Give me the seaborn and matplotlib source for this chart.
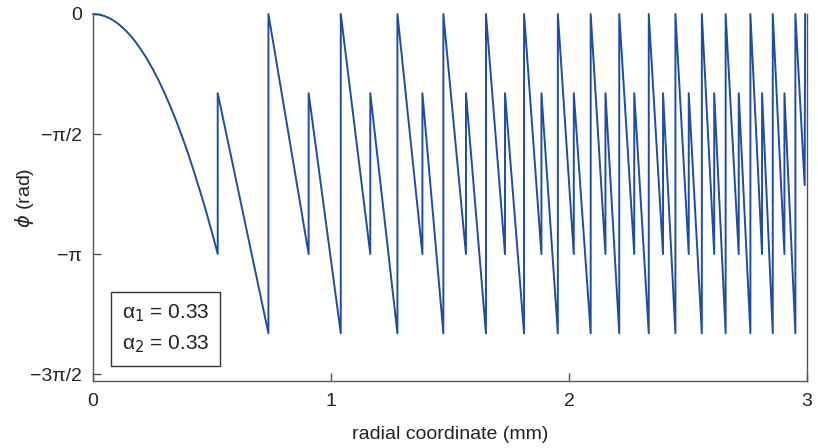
import numpy as np
import pandas as pd
import matplotlib
matplotlib.use("Agg")
import matplotlib.pyplot as plt
import seaborn as sns

sns.set_theme(style="white")
plt.rcParams["font.family"] = ["Liberation Sans", "DejaVu Sans"]

# ---- data ----
# first smooth section (r in mm, phase in rad)
curve_r = [0, 0.025, 0.05, 0.075, 0.10, 0.125, 0.15, 0.175, 0.20, 0.225, 0.25,
           0.275, 0.30, 0.325, 0.35, 0.375, 0.40, 0.425, 0.45, 0.475, 0.50, 0.524]
curve_phi = [0, -0.007, -0.029, -0.064, -0.114, -0.179, -0.257, -0.350, -0.458,
             -0.579, -0.715, -0.865, -1.03, -1.21, -1.40, -1.61, -1.83, -2.07,
             -2.32, -2.58, -2.86, -3.14]

# positions where phase hits -pi and jumps up to -0.33 pi
wrap_r = [0.524, 0.906, 1.165, 1.384, 1.567, 1.731, 1.884, 2.020, 2.153,
          2.274, 2.395, 2.503, 2.610, 2.713, 2.811, 2.905]
# positions where phase hits -1.33 pi and jumps back to 0
reset_r = [0.737, 1.041, 1.279, 1.472, 1.651, 1.811, 1.953, 2.091, 2.211,
           2.335, 2.447, 2.558, 2.658, 2.762, 2.856, 2.951]

level_low = -np.pi          # -pi
level_mid = -0.33 * np.pi   # after first jump
level_bottom = -1.33 * np.pi
level_top = 0.0

# end of the trace at r ~ 3 mm
tail_r = [2.990, 2.992]
tail_phi = [-2.24, 0.0]

alphas = [0.33, 0.33]

# ---- build trace ----
r_pts = list(curve_r)
p_pts = list(curve_phi)
for i in range(len(wrap_r)):
    if i > 0:
        r_pts.append(wrap_r[i]); p_pts.append(level_low)
    r_pts.append(wrap_r[i]); p_pts.append(level_mid)
    r_pts.append(reset_r[i]); p_pts.append(level_bottom)
    r_pts.append(reset_r[i]); p_pts.append(level_top)
r_pts += tail_r
p_pts += tail_phi

df = pd.DataFrame({"r": r_pts, "phi": p_pts})

# ---- plot ----
fig = plt.figure(figsize=(8.18, 4.48), dpi=100)
ax = fig.add_axes([0.1137, 0.150, 0.8729, 0.8188])

sns.lineplot(data=df, x="r", y="phi", sort=False, estimator=None,
             color="#214ca0", linewidth=1.4, ax=ax, clip_on=False)

ax.set_xlim(0, 3)
ax.set_ylim(-4.80, 0)
ax.set_xticks([0, 1, 2, 3])
ax.set_xticklabels(["0", "1", "2", "3"])
ax.set_yticks([0, -np.pi / 2, -np.pi, -3 * np.pi / 2])
ax.set_yticklabels(["0", "\u2212\u03c0/2", "\u2212\u03c0", "\u22123\u03c0/2"])

for side in ["left", "bottom", "right"]:
    ax.spines[side].set_visible(True)
    ax.spines[side].set_color("#555555")
    ax.spines[side].set_linewidth(1.0)
ax.spines["top"].set_visible(False)

ax.tick_params(axis="both", direction="in", length=6, width=1.0,
               color="#555555", labelsize=14, labelcolor="#222222",
               bottom=True, left=True, top=False, right=False)
ax.tick_params(axis="x", pad=9)
ax.tick_params(axis="y", pad=8)

ax.set_xlabel("radial coordinate (mm)", fontsize=14, color="#222222", labelpad=11)
ax.set_ylabel("$\\phi$ (rad)", fontsize=14, color="#222222")
ax.yaxis.set_label_coords(-0.080, 0.5)

legend_txt = "\u03b1$_1$ = %.2f\n\u03b1$_2$ = %.2f" % (alphas[0], alphas[1])
ax.text(0.305, -4.12, legend_txt, fontsize=15, color="#222222",
        va="center", ha="center", linespacing=1.6,
        bbox=dict(boxstyle="square,pad=0.5", fc="white", ec="#333333", lw=1.0))

fig.savefig("out.png", dpi=100)
